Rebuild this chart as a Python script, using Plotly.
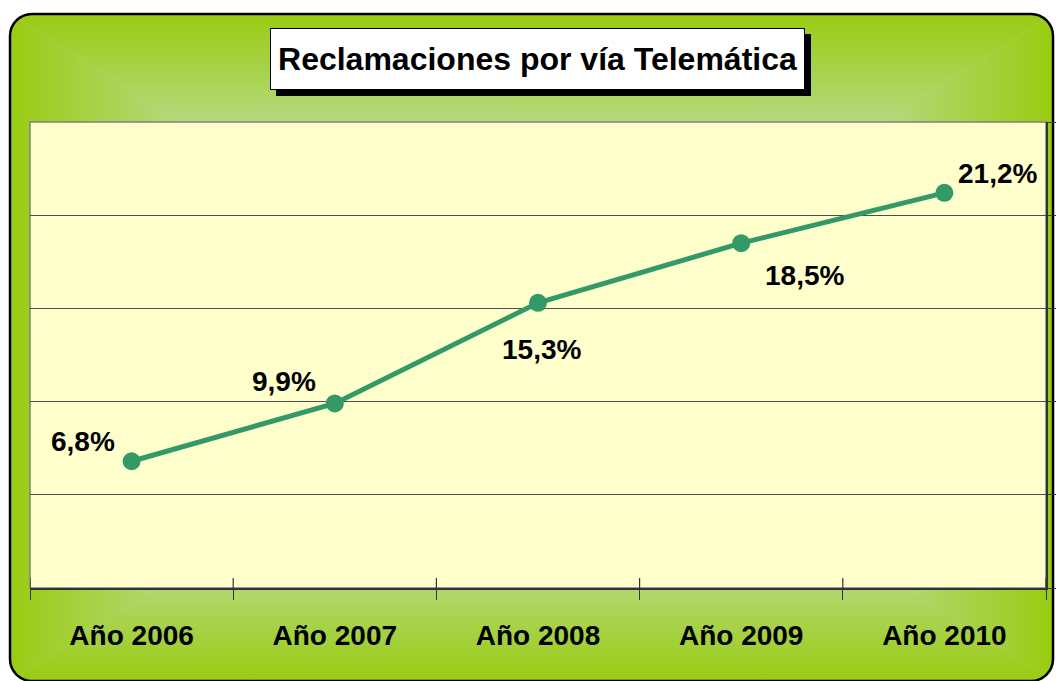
import base64
import plotly.graph_objects as go

# ---- data ----
categories = ["Año 2006", "Año 2007", "Año 2008", "Año 2009", "Año 2010"]
values = [6.8, 9.9, 15.3, 18.5, 21.2]
title_text = "Reclamaciones por vía Telemática"
y_grid_ticks = [5, 10, 15, 20]

# label offsets (pixels) relative to each point: (dx, dy up)
label_offsets = [(-49, 20), (-51, 22), (3, -47), (63, -32), (53, 19)]

W, H = 1056, 681
ML, MR, MT, MB = 30, 10, 122, 93
PW, PH = W - ML - MR, H - MT - MB

LINE_GREEN = "#339966"
FONT = "Liberation Sans, Arial, sans-serif"

# ---- background frame (rectangular path gradient) ----
edge = "#99CC11"
light = "#B6D983"
cx, cy = (10 + 1053) / 2, (14 + 681) / 2
svg = f"""<svg xmlns='http://www.w3.org/2000/svg' width='{W}' height='{H}' viewBox='0 0 {W} {H}'>
<defs>
<clipPath id='c'><rect x='10' y='14' width='1043' height='667' rx='22' ry='22'/></clipPath>
<linearGradient id='gt' gradientUnits='userSpaceOnUse' x1='0' y1='14' x2='0' y2='{cy}'>
<stop offset='0' stop-color='{edge}'/><stop offset='0.34' stop-color='{light}'/><stop offset='1' stop-color='{light}'/></linearGradient>
<linearGradient id='gb' gradientUnits='userSpaceOnUse' x1='0' y1='681' x2='0' y2='{cy}'>
<stop offset='0' stop-color='{edge}'/><stop offset='0.34' stop-color='{light}'/><stop offset='1' stop-color='{light}'/></linearGradient>
<linearGradient id='gl' gradientUnits='userSpaceOnUse' x1='10' y1='0' x2='{cx}' y2='0'>
<stop offset='0' stop-color='{edge}'/><stop offset='0.34' stop-color='{light}'/><stop offset='1' stop-color='{light}'/></linearGradient>
<linearGradient id='gr' gradientUnits='userSpaceOnUse' x1='1053' y1='0' x2='{cx}' y2='0'>
<stop offset='0' stop-color='{edge}'/><stop offset='0.34' stop-color='{light}'/><stop offset='1' stop-color='{light}'/></linearGradient>
</defs>
<g clip-path='url(#c)'>
<rect x='0' y='0' width='{W}' height='{H}' fill='{light}'/>
<polygon points='10,14 1053,14 {cx},{cy}' fill='url(#gt)'/>
<polygon points='10,681 1053,681 {cx},{cy}' fill='url(#gb)'/>
<polygon points='10,14 10,681 {cx},{cy}' fill='url(#gl)'/>
<polygon points='1053,14 1053,681 {cx},{cy}' fill='url(#gr)'/>
</g>
<rect x='10' y='14' width='1043' height='667' rx='22' ry='22' fill='none' stroke='black' stroke-width='2.5'/>
</svg>"""
svg_uri = "data:image/svg+xml;base64," + base64.b64encode(svg.encode()).decode()

fig = go.Figure()
fig.add_trace(go.Scatter(
    x=categories, y=values, mode="lines+markers",
    line=dict(color=LINE_GREEN, width=5),
    marker=dict(color=LINE_GREEN, size=18),
    hoverinfo="skip", showlegend=False,
))
# invisible trace to activate the right-hand axis
fig.add_trace(go.Scatter(
    x=categories, y=values, yaxis="y2", mode="lines",
    line=dict(width=0), hoverinfo="skip", showlegend=False, opacity=0,
))

# plot area fill (drawn above background image)
shapes = [dict(type="rect", xref="paper", yref="paper", x0=0, x1=1, y0=0, y1=1,
               fillcolor="#FFFFCC", line=dict(color="#808080", width=1.5), layer="below")]
# upper half of the crossing tick marks at category boundaries
for i in range(len(categories) + 1):
    b = i - 0.5
    shapes.append(dict(type="line", xref="x", yref="y", x0=b, x1=b,
                       ysizemode="pixel", yanchor=0, y0=0, y1=10,
                       line=dict(color="#333333", width=1.2), layer="above"))

annotations = []
# title shadow and title box
title_x = (537.5 - ML) / PW
title_y = (H - MB - 59) / PH
for shadow in (True, False):
    annotations.append(dict(
        xref="paper", yref="paper", x=title_x, y=title_y,
        xanchor="center", yanchor="middle", showarrow=False,
        text=" " if shadow else title_text,
        width=525, height=52, borderpad=4, borderwidth=1,
        bgcolor="black" if shadow else "white", bordercolor="black",
        font=dict(family=FONT, size=32, color="black", weight="bold"),
        xshift=6 if shadow else 0, yshift=-6 if shadow else 0,
    ))
# data labels
for cat, v, (dx, dy) in zip(categories, values, label_offsets):
    annotations.append(dict(
        x=cat, y=v, xref="x", yref="y", showarrow=False,
        text=f"{v:.1f}".replace(".", ",") + "%",
        xshift=dx, yshift=dy, xanchor="center", yanchor="middle",
        font=dict(family=FONT, size=28, color="black", weight="bold"),
    ))

fig.update_layout(
    width=W, height=H,
    margin=dict(l=ML, r=MR, t=MT, b=MB, pad=0, autoexpand=False),
    paper_bgcolor="white", plot_bgcolor="rgba(0,0,0,0)",
    images=[dict(source=svg_uri, xref="paper", yref="paper",
                 x=-ML / PW, y=(H - MB) / PH, sizex=W / PW, sizey=H / PH,
                 xanchor="left", yanchor="top", sizing="stretch", layer="below")],
    shapes=shapes, annotations=annotations,
    xaxis=dict(range=[-0.5, 4.5], showgrid=False, zeroline=False, automargin=False,
               showline=True, linecolor="#333333", linewidth=1.5,
               ticks="outside", tickson="boundaries", ticklen=10,
               tickcolor="#333333", tickwidth=1.2, ticklabelstandoff=22,
               tickfont=dict(family=FONT, size=28, color="black", weight="bold")),
    yaxis=dict(range=[0, 25], tickvals=y_grid_ticks, showticklabels=False, automargin=False,
               showgrid=True, gridcolor="#4d4d4d", gridwidth=1,
               zeroline=False, showline=False, ticks=""),
    yaxis2=dict(range=[0, 25], overlaying="y", side="right", dtick=5, automargin=False,
                showticklabels=False, showgrid=False, zeroline=False,
                showline=True, linecolor="#333333", linewidth=1.5,
                ticks="outside", ticklen=10, tickcolor="#333333"),
)

fig.write_html("out.html", config={"displayModeBar": False},
               post_script="document.body.style.margin='0';document.body.style.overflow='hidden';")
